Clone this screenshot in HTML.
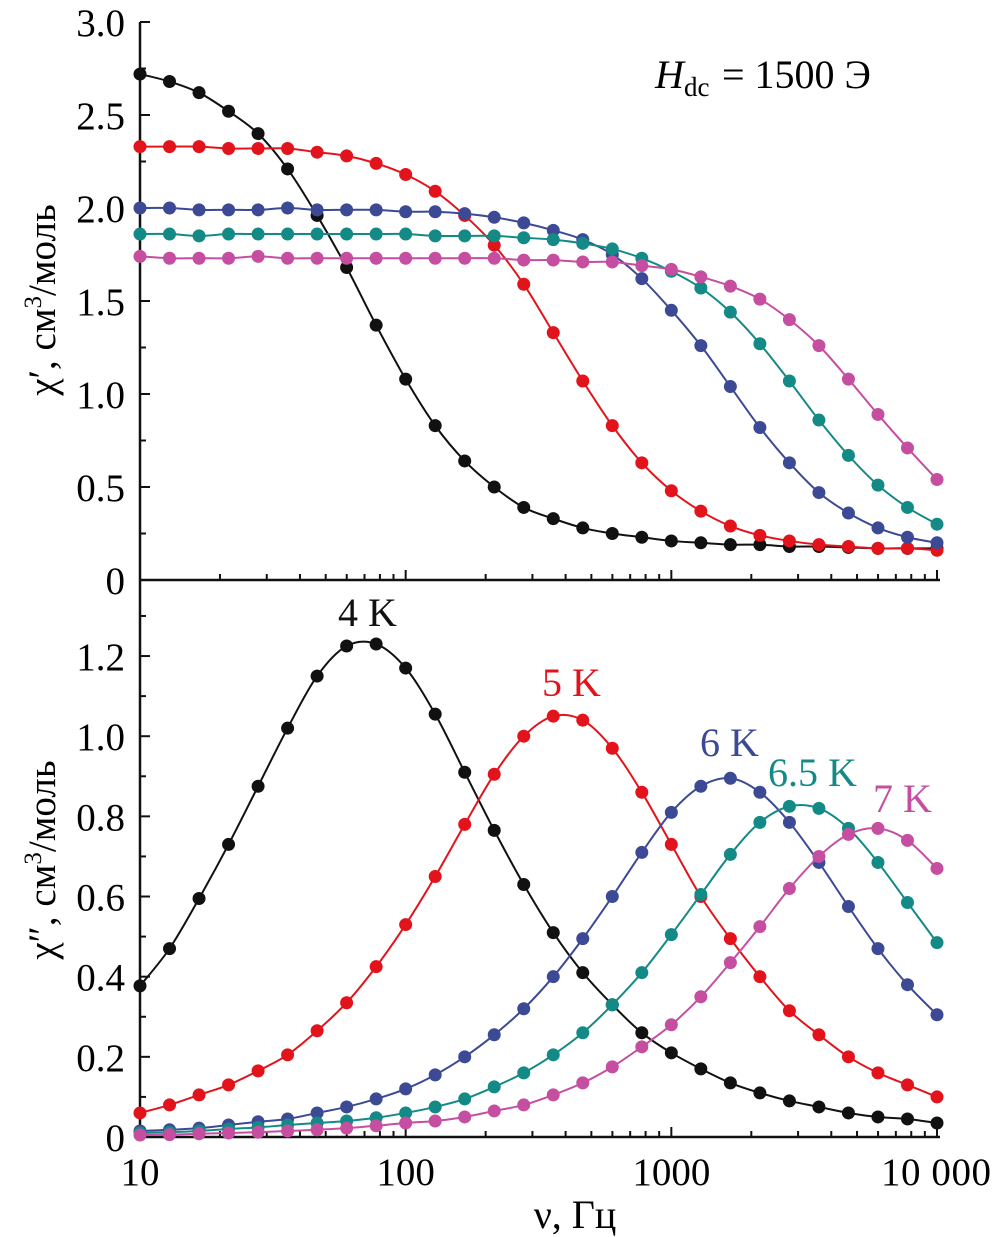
<!DOCTYPE html>
<html><head><meta charset="utf-8"><style>
body{margin:0;background:#fff}
svg{display:block;font-family:"Liberation Serif","DejaVu Serif",serif}
</style></head><body>
<svg id="chart" width="994" height="1237" viewBox="0 0 994 1237" xmlns="http://www.w3.org/2000/svg">
<g id="axes"></g>
<g id="series"></g>
<text x="655" y="88" font-size="40" font-style="italic">H</text>
<text x="684" y="96" font-size="27">dc</text>
<text x="722" y="88" font-size="40">= 1500 Э</text>
<text transform="translate(55,300) rotate(-90)" text-anchor="middle" font-size="39">χ′, см<tspan font-size="25" dy="-14">3</tspan><tspan dy="14">/моль</tspan></text>
<text transform="translate(55,860) rotate(-90)" text-anchor="middle" font-size="39">χ″, см<tspan font-size="25" dy="-14">3</tspan><tspan dy="14">/моль</tspan></text>
<text x="575" y="1228" text-anchor="middle" font-size="40">ν, Гц</text>
<text x="338" y="626" font-size="40" fill="#111">4 K</text>
<text x="542" y="696" font-size="40" fill="#e3131b">5 K</text>
<text x="700" y="756" font-size="40" fill="#3c4a96">6 K</text>
<text x="768" y="786" font-size="40" fill="#138a86">6.5 K</text>
<text x="873" y="812" font-size="40" fill="#c54ea0">7 K</text>
</svg>
<script>
const freqCount = 28;
const xTicks = [10, 100, 1000, 10000];
const xTickLabels = ["10", "100", "1000", "10 000"];
const yTopTicks = [0, 0.5, 1.0, 1.5, 2.0, 2.5, 3.0];
const yTopLabels = ["0", "0.5", "1.0", "1.5", "2.0", "2.5", "3.0"];
const yBotTicks = [0, 0.2, 0.4, 0.6, 0.8, 1.0, 1.2];
const yBotLabels = ["0", "0.2", "0.4", "0.6", "0.8", "1.0", "1.2"];
const seriesNames = ["4K", "5K", "6K", "6-5K", "7K"];
const colors = ["#111111", "#e3131b", "#3c4a96", "#138a86", "#c54ea0"];
const chiP4 = [2.72,2.68,2.62,2.52,2.40,2.21,1.96,1.68,1.37,1.08,0.83,0.64,0.50,0.39,0.33,0.28,0.25,0.23,0.21,0.20,0.19,0.19,0.18,0.18,0.175,0.17,0.17,0.17];
const chiP5 = [2.33,2.33,2.33,2.32,2.32,2.32,2.30,2.28,2.24,2.18,2.09,1.96,1.80,1.59,1.33,1.07,0.83,0.63,0.48,0.37,0.29,0.24,0.21,0.19,0.18,0.17,0.17,0.16];
const chiP6 = [2.00,2.00,1.99,1.99,1.99,2.00,1.99,1.99,1.99,1.98,1.98,1.97,1.95,1.92,1.88,1.83,1.75,1.62,1.45,1.26,1.04,0.82,0.63,0.47,0.36,0.28,0.23,0.20];
const chiP65 = [1.86,1.86,1.85,1.86,1.86,1.86,1.86,1.86,1.86,1.86,1.85,1.85,1.85,1.84,1.83,1.81,1.78,1.73,1.66,1.57,1.44,1.27,1.07,0.86,0.67,0.51,0.39,0.30];
const chiP7 = [1.74,1.73,1.73,1.73,1.74,1.73,1.73,1.73,1.73,1.73,1.73,1.73,1.73,1.72,1.72,1.71,1.71,1.69,1.67,1.63,1.58,1.51,1.40,1.26,1.08,0.89,0.71,0.54];
const chiPP4 = [0.377,0.47,0.595,0.73,0.875,1.02,1.15,1.225,1.23,1.17,1.055,0.91,0.765,0.63,0.51,0.41,0.33,0.26,0.21,0.17,0.135,0.11,0.09,0.075,0.06,0.05,0.045,0.035];
const chiPP5 = [0.06,0.08,0.105,0.13,0.165,0.205,0.265,0.335,0.425,0.53,0.65,0.78,0.905,1.0,1.05,1.04,0.97,0.86,0.73,0.60,0.495,0.40,0.315,0.255,0.20,0.16,0.13,0.10];
const chiPP6 = [0.015,0.018,0.022,0.03,0.038,0.045,0.06,0.075,0.095,0.12,0.155,0.20,0.255,0.32,0.40,0.495,0.60,0.71,0.81,0.875,0.895,0.86,0.785,0.685,0.575,0.47,0.38,0.305];
const chiPP65 = [0.01,0.012,0.015,0.02,0.024,0.03,0.035,0.04,0.048,0.06,0.075,0.095,0.125,0.16,0.205,0.26,0.33,0.41,0.505,0.605,0.705,0.785,0.825,0.82,0.77,0.685,0.585,0.485];
const chiPP7 = [0.005,0.006,0.008,0.01,0.012,0.015,0.018,0.022,0.028,0.035,0.04,0.05,0.065,0.08,0.105,0.135,0.175,0.225,0.28,0.35,0.435,0.525,0.62,0.70,0.755,0.77,0.74,0.67];

const NS = "http://www.w3.org/2000/svg";
const X0 = 140, X1 = 937;
const x = f => X0 + (Math.log10(f) - 1) / 3 * (X1 - X0);
const yTop = v => 580 - v * 186;
const yBot = v => 1137 - v * 400.8;
const freqs = [];
for (let i = 0; i < freqCount; i++) freqs.push(Math.pow(10, 1 + i / 9));

function mk(tag, attrs, parent) {
  const el = document.createElementNS(NS, tag);
  for (const k in attrs) el.setAttribute(k, attrs[k]);
  parent.appendChild(el);
  return el;
}
const axes = document.getElementById("axes");
const series = document.getElementById("series");

let ln = mk("line", {x1: X0, y1: 22, x2: X0, y2: 1137, stroke: "#111", "stroke-width": 2.5}, axes);


[580, 1137].forEach((yy, idx) => {
  const l = mk("line", {x1: X0, y1: yy, x2: 940, y2: yy, stroke: "#111", "stroke-width": 2.5}, axes);
  
  
});
[580, 1137].forEach(yy => {
  for (let d = 1; d <= 3; d++) {
    for (let m = 2; m <= 10; m++) {
      const f = Math.pow(10, d) * m;
      const len = m === 10 ? 10 : 6;
      const t = mk("line", {x1: x(f), y1: yy, x2: x(f), y2: yy - len, stroke: "#111", "stroke-width": 2}, axes);
      
      
    }
  }
});
xTicks.forEach((f, i) => {
  const last = i === xTicks.length - 1;
  const t = mk("text", {x: last ? 991 : x(f), y: 1185, "text-anchor": last ? "end" : "middle", "font-size": 39}, axes);
  if (last) t.setAttribute("textLength", 110);
  t.textContent = xTickLabels[i];
  
  
});
for (let v = 0; v <= 3.0001; v += 0.25) {
  const major = Math.abs(v * 2 - Math.round(v * 2)) < 1e-6;
  if (v > 0) {
    const t = mk("line", {x1: X0, y1: yTop(v), x2: X0 + (major ? 10 : 6), y2: yTop(v), stroke: "#111", "stroke-width": 2}, axes);
    
    
  }
}
yTopTicks.forEach((v, i) => {
  const t = mk("text", {x: 125, y: yTop(v) + 14, "text-anchor": "end", "font-size": 39}, axes);
  t.textContent = yTopLabels[i];
  
  
});
for (let v = 0.1; v <= 1.3501; v += 0.1) {
  const major = Math.round(v * 10) % 2 === 0;
  const t = mk("line", {x1: X0, y1: yBot(v), x2: X0 + (major ? 10 : 6), y2: yBot(v), stroke: "#111", "stroke-width": 2}, axes);
  
  
}
yBotTicks.forEach((v, i) => {
  const t = mk("text", {x: 125, y: yBot(v) + 14, "text-anchor": "end", "font-size": 39}, axes);
  t.textContent = yBotLabels[i];
  
  
});

function smooth(pts) {
  let d = "M" + pts[0][0] + "," + pts[0][1];
  for (let i = 0; i < pts.length - 1; i++) {
    const p0 = pts[i - 1] || pts[i], p1 = pts[i], p2 = pts[i + 1], p3 = pts[i + 2] || p2;
    const c1 = [p1[0] + (p2[0] - p0[0]) / 6, p1[1] + (p2[1] - p0[1]) / 6];
    const c2 = [p2[0] - (p3[0] - p1[0]) / 6, p2[1] - (p3[1] - p1[1]) / 6];
    d += " C" + c1 + " " + c2 + " " + p2;
  }
  return d;
}
function drawSeries(vals, yf, color, name) {
  const g = mk("g", {}, series);
  
  
  const pts = vals.map((v, i) => [x(freqs[i]), yf(v)]);
  const p = mk("path", {d: smooth(pts), fill: "none", stroke: color, "stroke-width": 2}, g);
  
  
  pts.forEach(pt => {
    const c = mk("circle", {cx: pt[0], cy: pt[1], r: 6.5, fill: color}, g);
    
    
  });
}
const topData = [chiP4, chiP5, chiP6, chiP65, chiP7];
const botData = [chiPP4, chiPP5, chiPP6, chiPP65, chiPP7];
topData.forEach((d, i) => drawSeries(d, yTop, colors[i], "chi-prime-" + seriesNames[i].toLowerCase()));
botData.forEach((d, i) => drawSeries(d, yBot, colors[i], "chi-double-prime-" + seriesNames[i].toLowerCase()));
</script>
</body></html>
